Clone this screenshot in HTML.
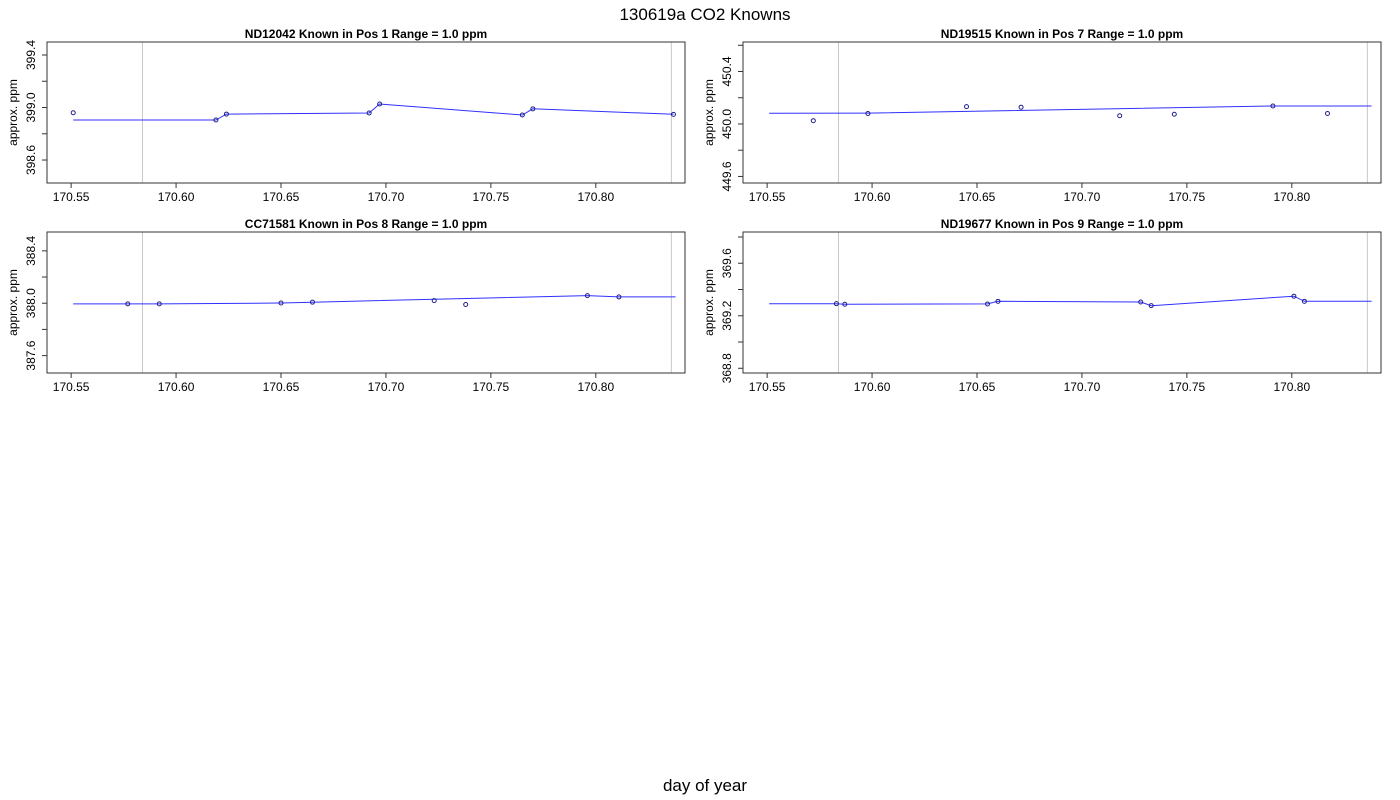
<!DOCTYPE html>
<html><head><meta charset="utf-8"><style>
body{margin:0;background:#fff;}
svg{display:block;font-family:"Liberation Sans",sans-serif;}
</style></head><body>
<svg id="chart" width="1400" height="800">
<text x="705" y="20" text-anchor="middle" font-size="17">130619a   CO2 Knowns</text>
<text x="705" y="791" text-anchor="middle" font-size="17">day of year</text>
</svg>
<script>
const xTicks = [170.55, 170.60, 170.65, 170.70, 170.75, 170.80];
const xTickLabels = ["170.55","170.60","170.65","170.70","170.75","170.80"];
const vLines = [170.584, 170.836];

const p1Title = "ND12042    Known in Pos 1         Range = 1.0 ppm";
const p1PtX = [170.551, 170.619, 170.624, 170.692, 170.697, 170.765, 170.770, 170.837];
const p1PtY = [398.96, 398.905, 398.95, 398.958, 399.027, 398.943, 398.99, 398.948];
const p1LineX = [170.551, 170.619, 170.624, 170.692, 170.697, 170.765, 170.770, 170.837];
const p1LineY = [398.905, 398.905, 398.95, 398.958, 399.027, 398.943, 398.99, 398.948];
const p1YTicks = [398.6, 398.8, 399.0, 399.2, 399.4];
const p1YLabels = ["398.6", "", "399.0", "", "399.4"];

const p2Title = "ND19515    Known in Pos 7         Range = 1.0 ppm";
const p2PtX = [170.572, 170.598, 170.645, 170.671, 170.718, 170.744, 170.791, 170.817];
const p2PtY = [450.025, 450.08, 450.132, 450.128, 450.063, 450.074, 450.137, 450.08];
const p2LineX = [170.551, 170.598, 170.791, 170.838];
const p2LineY = [450.082, 450.083, 450.137, 450.137];
const p2YTicks = [449.6, 449.8, 450.0, 450.2, 450.4, 450.6];
const p2YLabels = ["449.6", "", "450.0", "", "450.4", ""];

const p3Title = "CC71581    Known in Pos 8         Range = 1.0 ppm";
const p3PtX = [170.577, 170.592, 170.650, 170.665, 170.723, 170.738, 170.796, 170.811];
const p3PtY = [387.995, 387.995, 388.002, 388.008, 388.02, 387.99, 388.058, 388.048];
const p3LineX = [170.551, 170.577, 170.592, 170.650, 170.665, 170.796, 170.811, 170.838];
const p3LineY = [387.995, 387.995, 387.995, 388.002, 388.008, 388.058, 388.048, 388.048];
const p3YTicks = [387.6, 387.8, 388.0, 388.2, 388.4];
const p3YLabels = ["387.6", "", "388.0", "", "388.4"];

const p4Title = "ND19677    Known in Pos 9         Range = 1.0 ppm";
const p4PtX = [170.583, 170.587, 170.655, 170.660, 170.728, 170.733, 170.801, 170.806];
const p4PtY = [369.292, 369.288, 369.29, 369.31, 369.305, 369.277, 369.349, 369.31];
const p4LineX = [170.551, 170.583, 170.587, 170.655, 170.660, 170.728, 170.733, 170.801, 170.806, 170.838];
const p4LineY = [369.292, 369.292, 369.288, 369.29, 369.31, 369.305, 369.277, 369.349, 369.31, 369.31];
const p4YTicks = [368.8, 369.0, 369.2, 369.4, 369.6, 369.8];
const p4YLabels = ["368.8", "", "369.2", "", "369.6", ""];

const NS = "http://www.w3.org/2000/svg";
const svg = document.getElementById("chart");
function mk(tag, attrs, parent) {
  const e = document.createElementNS(NS, tag);
  for (const k in attrs) e.setAttribute(k, attrs[k]);
  parent.appendChild(e);
  return e;
}

function panel(id, box, xDom, yDom, title, ptX, ptY, lineX, lineY, yTicks, yLabels) {
  const g = mk("g", {}, svg);
  
  
  const sx = v => box.x0 + (v - xDom[0]) / (xDom[1] - xDom[0]) * (box.x1 - box.x0);
  const sy = v => box.y1 - (v - yDom[0]) / (yDom[1] - yDom[0]) * (box.y1 - box.y0);

  const t = mk("text", {x: (box.x0 + box.x1) / 2, y: box.y0 - 4, "text-anchor": "middle", "font-size": "12", "font-weight": "bold", "xml:space": "preserve"}, g);
  
  
  t.textContent = title;

  vLines.forEach(v => {
    const l = mk("line", {x1: sx(v), x2: sx(v), y1: box.y0, y2: box.y1, stroke: "#c8c8c8", "stroke-width": 1}, g);
    
    
  });

  const r = mk("rect", {x: box.x0, y: box.y0, width: box.x1 - box.x0, height: box.y1 - box.y0, fill: "none", stroke: "#333", "stroke-width": 1}, g);
  
  

  xTicks.forEach((v, i) => {
    const x = sx(v);
    const tk = mk("line", {x1: x, x2: x, y1: box.y1, y2: box.y1 + 5, stroke: "#333"}, g);
    
    
    const tl = mk("text", {x: x, y: box.y1 + 18, "text-anchor": "middle", "font-size": "12"}, g);
    
    
    tl.textContent = xTickLabels[i];
  });
  const xa = mk("line", {x1: sx(xTicks[0]), x2: sx(xTicks[xTicks.length - 1]), y1: box.y1, y2: box.y1, stroke: "#333"}, g);
  
  

  yTicks.forEach((v, i) => {
    const y = sy(v);
    const tk = mk("line", {x1: box.x0 - 5, x2: box.x0, y1: y, y2: y, stroke: "#333"}, g);
    
    
    if (yLabels[i]) {
      const tx = box.x0 - 12;
      const tl = mk("text", {x: tx, y: y, "text-anchor": "middle", "font-size": "12", transform: `rotate(-90 ${tx} ${y})`}, g);
      
      
      tl.textContent = yLabels[i];
    }
  });
  const ya = mk("line", {x1: box.x0, x2: box.x0, y1: sy(yTicks[0]), y2: sy(yTicks[yTicks.length - 1]), stroke: "#333"}, g);
  
  
  const yt = box.x0 - 30, ym = (box.y0 + box.y1) / 2;
  const ytl = mk("text", {x: yt, y: ym, "text-anchor": "middle", "font-size": "12", transform: `rotate(-90 ${yt} ${ym})`}, g);
  
  
  ytl.textContent = "approx. ppm";

  const pts = lineX.map((v, i) => sx(v).toFixed(1) + "," + sy(lineY[i]).toFixed(1)).join(" ");
  const pl = mk("polyline", {points: pts, fill: "none", stroke: "#3030ff", "stroke-width": 1}, g);
  
  

  ptX.forEach((v, i) => {
    const c = mk("circle", {cx: sx(v), cy: sy(ptY[i]), r: 2, fill: "none", stroke: "#20208a", "stroke-width": 1}, g);
    
    
  });
}

const xDom = [170.5385, 170.8425];
panel("panel-nd12042", {x0: 47, x1: 685, y0: 42, y1: 183}, xDom, [398.425, 399.499], p1Title, p1PtX, p1PtY, p1LineX, p1LineY, p1YTicks, p1YLabels);
panel("panel-nd19515", {x0: 743, x1: 1381, y0: 42, y1: 183}, xDom, [449.55, 450.625], p2Title, p2PtX, p2PtY, p2LineX, p2LineY, p2YTicks, p2YLabels);
panel("panel-cc71581", {x0: 47, x1: 685, y0: 232, y1: 373}, xDom, [387.467, 388.544], p3Title, p3PtX, p3PtY, p3LineX, p3LineY, p3YTicks, p3YLabels);
panel("panel-nd19677", {x0: 743, x1: 1381, y0: 232, y1: 373}, xDom, [368.764, 369.838], p4Title, p4PtX, p4PtY, p4LineX, p4LineY, p4YTicks, p4YLabels);
</script>
</body></html>
